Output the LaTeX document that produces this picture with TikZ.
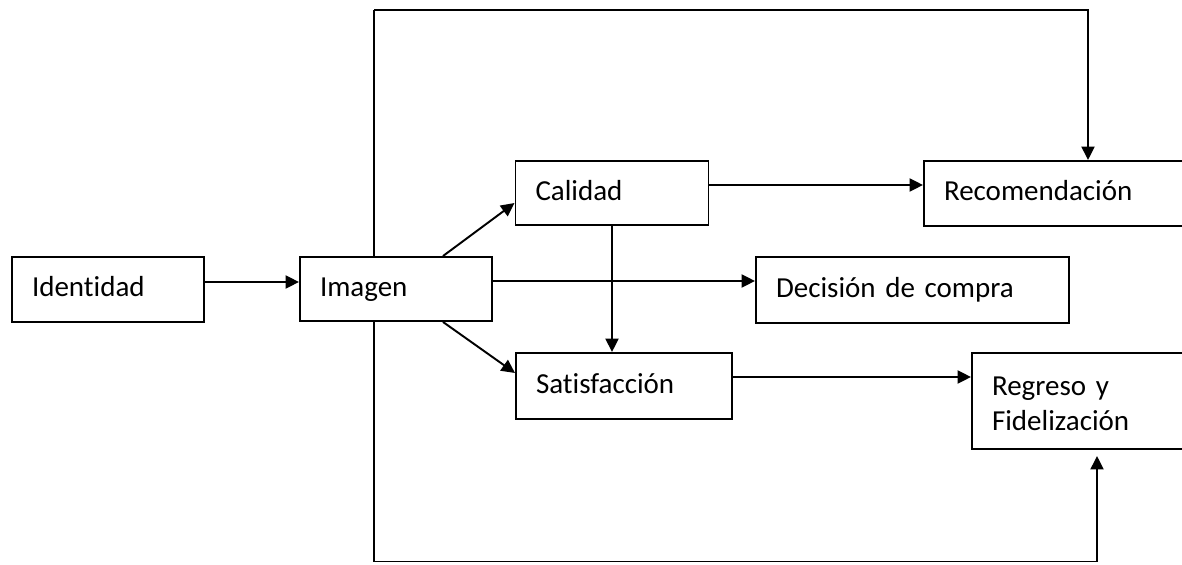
\documentclass[tikz,border=0pt]{standalone}
\usepackage{fontspec}
\setmainfont{Carlito}[Ligatures=NoCommon]
\usetikzlibrary{arrows.meta}

\begin{document}
\begin{tikzpicture}[line width=1.1pt,
    >={Triangle[length=0.27cm,width=0.26cm]},
    box/.style={draw,fill=white,inner xsep=0.4cm,align=left,
      font=\fontsize{16.5}{20}\selectfont,execute at begin node=\strut}]
    \useasboundingbox(0,0)rectangle(23.64,11.28);

    \draw(7.48,11.08)coordinate(tl)--(7.48,0.05)coordinate(bl);

    \node[box,text width=3.04cm,minimum height=1.30cm](ide)at(2.16,5.49){Identidad};
    \node[box,text width=3.04cm,minimum height=1.28cm](img)at(7.92,5.50){Imagen};
    \node[box,text width=3.06cm,minimum height=1.28cm](cal)at(12.24,7.42){Calidad};
    \node[box,text width=3.52cm,minimum height=1.32cm](sat)at(12.48,3.56){Satisfacción};
    \node[box,text width=5.46cm,minimum height=1.32cm](dec)at(18.25,5.48){Decisión de compra};
    \node[box,text width=4.60cm,minimum height=1.30cm](rec)at(21.18,7.41){Recomendación};
    \node[box,text width=3.60cm,minimum height=1.92cm](reg)at(21.64,3.26){Regreso y\\Fidelización};

    \draw[->]([yshift=0.15cm]ide.east)--([yshift=0.15cm]ide.east-|img.west);
    \draw[->]([yshift=0.16cm]img.east)--([yshift=0.16cm]img.east-|dec.west);
    \draw[->]([xshift=0.94cm]img.north)--([yshift=-0.2cm]cal.west);
    \draw[->]([xshift=0.94cm]img.south)--([yshift=0.26cm]sat.west);
    \draw[->]([yshift=0.16cm]cal.east)--([yshift=0.16cm]cal.east-|rec.west);
    \draw[->](cal.south)--(cal.south|-sat.north);
    \draw[->]([yshift=0.18cm]sat.east)--([yshift=0.18cm]sat.east-|reg.west);
    \draw[->](tl)-|([xshift=0.58cm]rec.north);
    \draw[->](bl)-|([xshift=0.30cm,yshift=-0.12cm]reg.south);
\end{tikzpicture}
\end{document}
